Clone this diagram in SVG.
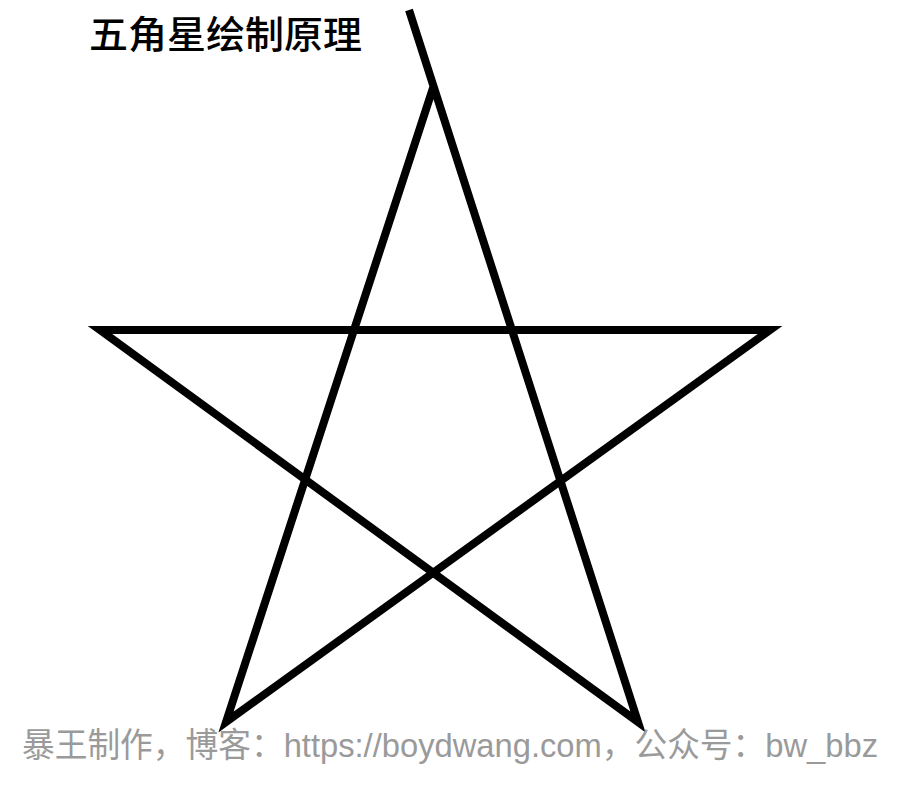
<svg xmlns="http://www.w3.org/2000/svg" width="924" height="785" viewBox="0 0 924 785">
<style>
.title{font-family:"Liberation Sans","Noto Sans CJK SC",sans-serif;font-size:38px;font-weight:500;fill:#000;}
.foot{font-family:"Liberation Sans","Noto Sans CJK SC",sans-serif;font-size:34px;fill:#9a9a9a;}
.star{fill:none;stroke:#000;stroke-width:8;stroke-linejoin:miter;stroke-miterlimit:10;stroke-linecap:butt;}
</style>
<rect width="924" height="785" fill="#fff"/>
<g id="title"><text class="title" x="89" y="48" textLength="273" lengthAdjust="spacingAndGlyphs">五角星绘制原理</text></g>
<g id="connectors">
<path class="star" d="M409,10 L638,722 L100,330 L770,330 L226,722 L433,88"/>
</g>
<g id="footer"><text class="foot" x="22" y="757" textLength="856" lengthAdjust="spacingAndGlyphs">暴王制作，博客：https://boydwang.com，公众号：bw_bbz</text></g>
</svg>
